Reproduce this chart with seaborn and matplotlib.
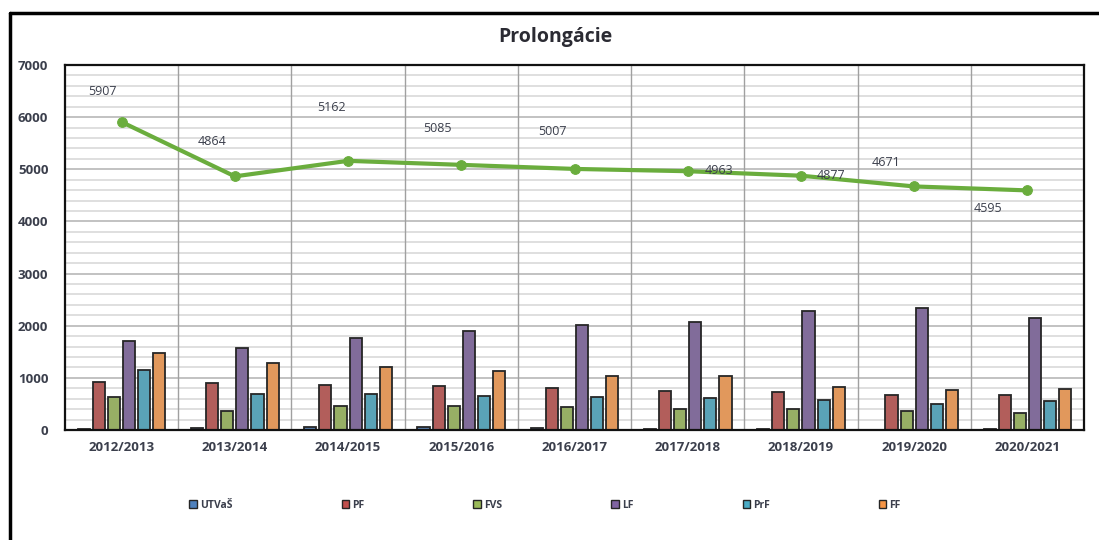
import numpy as np
import pandas as pd
import seaborn as sns
import matplotlib.pyplot as plt
from matplotlib.lines import Line2D
from matplotlib.patches import Patch

years = ['2012/2013', '2013/2014', '2014/2015', '2015/2016', '2016/2017',
         '2017/2018', '2018/2019', '2019/2020', '2020/2021']
faculties = ['UTVaŠ', 'PF', 'FVS', 'LF', 'PrF', 'FF']

utvas = [20, 40, 59, 60, 40, 20, 20, 5, 20]
pf = [913, 894, 869, 849, 804, 745, 725, 678, 678]
fvs = [633, 359, 463, 463, 443, 404, 404, 359, 333]
lf = [1706, 1575, 1771, 1902, 2013, 2071, 2287, 2333, 2157]
prf = [1149, 698, 698, 653, 633, 614, 575, 490, 555]
ff = [1470, 1280, 1216, 1130, 1039, 1039, 829, 771, 790]
total = [5907, 4864, 5162, 5085, 5007, 4963, 4877, 4671, 4595]

# label offsets (pixels) relative to each point of the total line
label_dx = [-19, -23, -17, -24, -22, 31, 30, -28, -39]
label_dy = [30, 35, 53, 36, 37, 1, 0, 24, -18]

colors = ['#4F81BD', '#C0504D', '#9BBB59', '#8064A2', '#4BACC6', '#F79646']
text_col = '#3b3f4c'

sns.set_theme(style='white')
plt.rcParams['font.family'] = ['Open Sans', 'DejaVu Sans']

df = pd.DataFrame({'year': years, 'UTVaŠ': utvas, 'PF': pf, 'FVS': fvs,
                   'LF': lf, 'PrF': prf, 'FF': ff})
long = df.melt(id_vars='year', var_name='fakulta', value_name='pocet')

fig = plt.figure(figsize=(10.99, 5.40), dpi=100)
ax = fig.add_axes([65 / 1099, 1 - 430 / 540, (1084 - 65) / 1099, (430 - 65) / 540])

# grid lines
for v in np.arange(200, 7000, 200):
    c = '#bdbdbd' if v % 1000 == 0 else '#dcdcdc'
    ax.axhline(v, color=c, lw=1.3, zorder=0)
for i in range(len(years) - 1):
    ax.axvline(i + 0.5, color='#a0a0a0', lw=1.0, zorder=0)

sns.barplot(data=long, x='year', y='pocet', hue='fakulta', hue_order=faculties,
            palette=colors, width=0.8, gap=0.2, edgecolor='#262626', linewidth=1.3,
            ax=ax, zorder=2, legend=False)

sns.lineplot(x=np.arange(len(years)), y=total, color='#6AAD3D', lw=3,
             marker='o', markersize=7, markeredgecolor='#6AAD3D', ax=ax,
             zorder=3, legend=False)

for i, v in enumerate(total):
    ax.annotate(str(v), (i, v), xytext=(label_dx[i], label_dy[i]),
                textcoords='offset pixels', ha='center', va='center',
                fontsize=9, color=text_col, zorder=4)

ax.set_xlim(-0.5, len(years) - 0.5)
ax.set_ylim(0, 7000)
ax.set_yticks(range(0, 7001, 1000))
ax.set_xlabel('')
ax.set_ylabel('')
ax.tick_params(axis='both', length=0, labelsize=9.5, labelcolor=text_col)
ax.tick_params(axis='y', pad=12)
ax.tick_params(axis='x', pad=8)
for lab in ax.get_xticklabels() + ax.get_yticklabels():
    lab.set_fontweight('bold')
for s in ax.spines.values():
    s.set_color('#111111')
    s.set_linewidth(1.6)

fig.text(555 / 1099, 1 - 37 / 540, 'Prolongácie', ha='center', va='center',
         fontsize=14, fontweight='bold', color='#2b2b33')

handles = [Patch(facecolor=c, edgecolor='#262626', lw=1) for c in colors]
leg = fig.legend(handles, faculties, loc='center',
                 bbox_to_anchor=(545 / 1099, 1 - 505 / 540),
                 ncol=6, frameon=False, fontsize=7.5, handlelength=0.7,
                 handleheight=0.8, handletextpad=0.3, columnspacing=10.5,
                 labelcolor=text_col)
for t in leg.get_texts():
    t.set_fontweight('bold')

# outer chart frame
fig.add_artist(Line2D([10 / 1099, 1], [1 - 13 / 540, 1 - 13 / 540],
                      color='black', lw=2.5, transform=fig.transFigure))
fig.add_artist(Line2D([10 / 1099, 10 / 1099], [0, 1 - 13 / 540],
                      color='black', lw=2.5, transform=fig.transFigure))

fig.savefig('out.png', dpi=100)
